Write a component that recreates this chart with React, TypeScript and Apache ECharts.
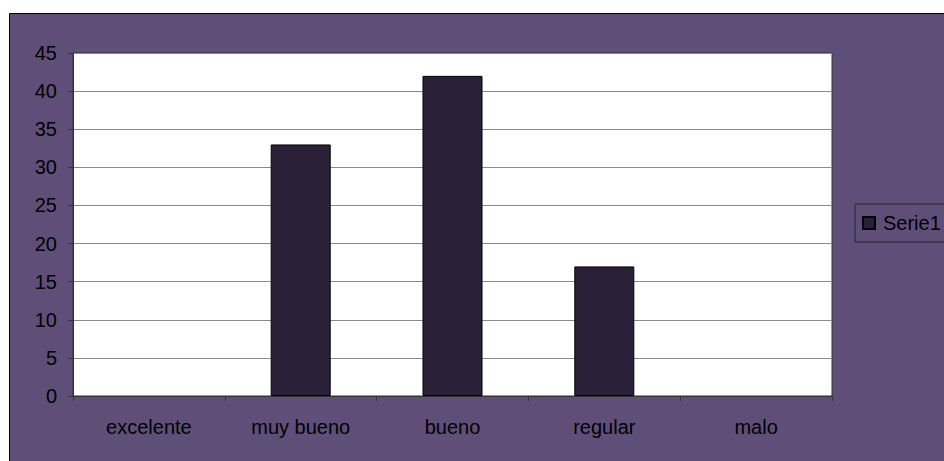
import React, { useEffect, useRef } from "react";
import * as echarts from "echarts";

const categories = ["excelente", "muy bueno", "bueno", "regular", "malo"];
const serie1 = [0, 33, 42, 17, 0];
const seriesName = "Serie1";

const FONT = "Liberation Sans, Arial, sans-serif";

export default function App() {
  const ref = useRef<HTMLDivElement>(null);
  useEffect(() => {
    const chart = echarts.init(ref.current!, null, { renderer: "svg" });
    chart.setOption({
      animation: false,
      textStyle: { fontFamily: FONT },
      graphic: [
        {
          type: "rect",
          z: -10,
          silent: true,
          shape: { x: 9.5, y: 13.5, width: 960, height: 480 },
          style: { fill: "#5f4f78", stroke: "#000", lineWidth: 1 },
        },
      ],
      grid: {
        left: 73,
        top: 53,
        width: 759,
        height: 343,
        show: true,
        backgroundColor: "#ffffff",
        borderColor: "#333",
        borderWidth: 1,
      },
      legend: {
        show: true,
        left: 855,
        top: 204,
        orient: "vertical",
        padding: [9, 12, 9, 7],
        borderColor: "#2a2139",
        borderWidth: 1,
        backgroundColor: "#5f4f78",
        itemWidth: 12,
        itemHeight: 12,
        icon: "rect",
        textStyle: { fontSize: 20, color: "#000", fontFamily: FONT, padding: [0, 0, 0, 3] },
        data: [seriesName],
      },
      xAxis: {
        type: "category",
        data: categories,
        boundaryGap: true,
        axisLine: { show: true, lineStyle: { color: "#333", width: 1 } },
        axisTick: { show: true, alignWithLabel: false, length: 5, lineStyle: { color: "#333" } },
        axisLabel: { color: "#000", fontSize: 20, margin: 21, interval: 0 },
        splitLine: { show: false },
      },
      yAxis: {
        type: "value",
        min: 0,
        max: 45,
        interval: 5,
        axisLine: { show: true, lineStyle: { color: "#333", width: 1 } },
        axisTick: { show: true, inside: false, length: 5, lineStyle: { color: "#333" } },
        axisLabel: { color: "#000", fontSize: 20, margin: 16 },
        splitLine: { show: true, lineStyle: { color: "#8a8a8a", width: 1 } },
      },
      series: [
        {
          name: seriesName,
          type: "bar",
          data: serie1.map((v) => (v === 0 ? { value: v, itemStyle: { borderWidth: 0 } } : v)),
          barWidth: 60,
          itemStyle: { color: "#2a2139", borderColor: "#000", borderWidth: 1 },
        },
      ],
    });
    return () => chart.dispose();
  }, []);
  return (
    <div
      ref={ref}
      style={{ position: "absolute", left: 0, top: 0, width: 944, height: 461, background: "#fff" }}
    />
  );
}
